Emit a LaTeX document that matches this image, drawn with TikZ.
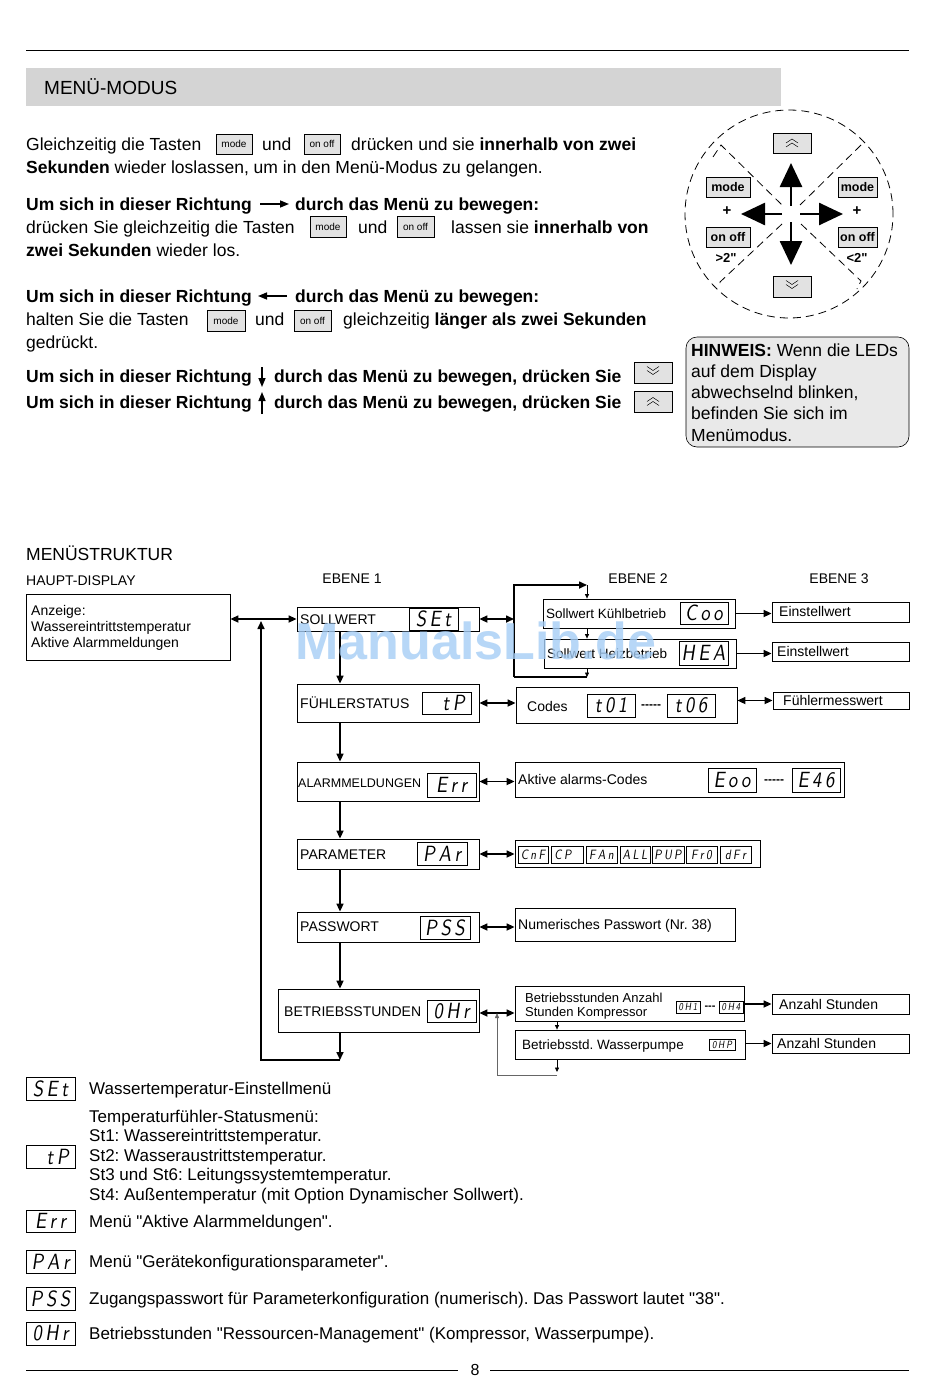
\documentclass[tikz,border=0pt]{standalone}
\usepackage{fontspec}
\setmainfont{Liberation Sans}
\newfontfamily\qfont{Liberation Sans}
\newfontfamily\segfont[FakeSlant=0.15,FakeStretch=0.85]{lmsans10-regular.otf}
\usetikzlibrary{arrows.meta}
\definecolor{hdr}{RGB}{212,212,212}
\definecolor{keyfill}{RGB}{226,226,226}
\definecolor{notefill}{RGB}{233,233,233}
\definecolor{wm}{RGB}{165,205,245}
\frenchspacing
\newcommand\fs[1]{\fontsize{#1}{#1}\selectfont}
\newcommand\sk{\kern3.5pt}
\newcommand\qq{{\qfont\char34}}
\newcommand\dd{{-}{-}{-}{-}{-}}
\newcommand\rbox[6][]{\node[boxst,minimum width={(#5-#3)*1pt},minimum height={(#6-#4)*1pt},#1] (#2) at ({(#3+#5)/2},{(#4+#6)/2}) {};}
\newcommand\disp[7][]{\node[dispst,minimum width={(#5-#3)*1pt},minimum height={(#6-#4)*1pt},#1] (#2) at ({(#3+#5)/2},{(#4+#6)/2}) {#7};}
\newcommand\kbox[7][]{\node[keyst,minimum width={(#5-#3)*1pt},minimum height={(#6-#4)*1pt},#1] (#2) at ({(#3+#5)/2},{(#4+#6)/2}) {#7};}
\newcommand\chevup[1]{%
  \draw[chev] ([xshift=-6pt,yshift=0pt]#1.center) -- ([yshift=4pt]#1.center) -- ([xshift=6pt,yshift=0pt]#1.center);
  \draw[chev] ([xshift=-6pt,yshift=-4pt]#1.center) -- ([yshift=0pt]#1.center) -- ([xshift=6pt,yshift=-4pt]#1.center);}
\newcommand\chevdn[1]{%
  \draw[chev] ([xshift=-6pt,yshift=6pt]#1.center) -- ([yshift=2pt]#1.center) -- ([xshift=6pt,yshift=6pt]#1.center);
  \draw[chev] ([xshift=-6pt,yshift=2pt]#1.center) -- ([yshift=-2pt]#1.center) -- ([xshift=6pt,yshift=2pt]#1.center);}
\begin{document}
\begin{tikzpicture}[x=1pt,y=-1pt,
  boxst/.style={draw,line width=0.8pt,inner sep=0},
  dispst/.style={draw,line width=0.8pt,inner sep=0,font=\segfont\fs{22}},
  smdisp/.style={dispst,font=\segfont\fs{13.5}},
  tinydisp/.style={dispst,line width=0.6pt,font=\segfont\fs{10.5}},
  keyst/.style={draw,fill=keyfill,line width=0.6pt,inner sep=0,font=\fs{10}},
  ckey/.style={keyst,font=\bfseries\fs{12.5}},
  txt/.style={anchor=base west,inner sep=0,font=\fs{17.5}},
  ltxt/.style={anchor=base west,inner sep=0,font=\fs{17}},
  dtxt/.style={anchor=base west,inner sep=0,font=\fs{14}},
  stxt/.style={anchor=base west,inner sep=0,font=\fs{13.5}},
  conn/.style={line width=1.6pt},
  arr/.style={conn,-{Triangle[length=8pt,width=7pt]}},
  darr/.style={conn,{Triangle[length=8pt,width=7pt]}-{Triangle[length=8pt,width=7pt]}},
  sarr/.style={line width=0.7pt,-{Triangle[length=4.5pt,width=4pt]}},
  tarr/.style={line width=1.5pt,-{Triangle[length=9pt,width=7pt]}},
  dline/.style={line width=0.8pt,dash pattern=on 8pt off 5pt},
  bigarr/.style={line width=2.6pt,-{Triangle[length=24pt,width=22pt]}},
  chev/.style={line width=0.5pt}]
\useasboundingbox (0,0) rectangle (950,1387);
\fill[white] (0,0) rectangle (950,1387);
% ---------- header ----------
\draw[line width=0.8pt] (26,50) -- (909,50);
\fill[hdr] (26,68) rectangle (781,106);
\node[anchor=west,inner sep=0,font=\fs{19}] (title) at (44,87) {MENÜ-MODUS};
% ---------- paragraph ----------
\node[txt] (p1a) at (26,150) {Gleichzeitig die Tasten};
\kbox{k1m}{216}{134}{252}{154}{mode}
\node[txt] (p1b) at (262,150) {und};
\kbox{k1o}{304}{134}{340}{154}{on off}
\node[txt] (p1c) at (351,150) {drücken und sie \textbf{innerhalb von zwei}};
\node[txt] (p2) at (26,173) {\textbf{Sekunden} wieder loslassen, um in den Menü-Modus zu gelangen.};
\node[txt] (p3a) at (26,210) {\textbf{Um sich in dieser Richtung}};
\coordinate (a3s) at (260,204); \coordinate (a3e) at (289,204);
\draw[tarr] (a3s) -- (a3e);
\node[txt] (p3b) at (295,210) {\textbf{durch das Menü zu bewegen:}};
\node[txt] (p4a) at (26,233) {drücken Sie gleichzeitig die Tasten};
\kbox{k2m}{310}{216}{346}{237}{mode}
\node[txt] (p4b) at (358,233) {und};
\kbox{k2o}{397}{216}{434}{237}{on off}
\node[txt] (p4c) at (451,233) {lassen sie \textbf{innerhalb von}};
\node[txt] (p5) at (26,256) {\textbf{zwei Sekunden} wieder los.};
\node[txt] (p6a) at (26,302) {\textbf{Um sich in dieser Richtung}};
\coordinate (a6s) at (287,296); \coordinate (a6e) at (258,296);
\draw[tarr] (a6s) -- (a6e);
\node[txt] (p6b) at (295,302) {\textbf{durch das Menü zu bewegen:}};
\node[txt] (p7a) at (26,325) {halten Sie die Tasten};
\kbox{k3m}{207}{310}{245}{331}{mode}
\node[txt] (p7b) at (255,325) {und};
\kbox{k3o}{294}{310}{331}{331}{on off}
\node[txt] (p7c) at (343,325) {gleichzeitig \textbf{länger als zwei Sekunden}};
\node[txt] (p8) at (26,348) {gedrückt.};
\node[txt] (p9a) at (26,382) {\textbf{Um sich in dieser Richtung}};
\coordinate (a9s) at (262,367); \coordinate (a9e) at (262,387);
\draw[tarr] (a9s) -- (a9e);
\node[txt] (p9b) at (274,382) {\textbf{durch das Menü zu bewegen, drücken Sie}};
\kbox{kdn}{634}{362}{672}{383}{}
\chevdn{kdn}
\node[txt] (p10a) at (26,408) {\textbf{Um sich in dieser Richtung}};
\coordinate (a10s) at (262,414); \coordinate (a10e) at (262,392);
\draw[tarr] (a10s) -- (a10e);
\node[txt] (p10b) at (274,408) {\textbf{durch das Menü zu bewegen, drücken Sie}};
\kbox{kup}{634}{391}{672}{412}{}
\chevup{kup}
% ---------- circle diagram ----------
\draw[dline] (789,214) circle[radius=104pt];
\draw[dline] (713,157) -- (721,145) -- (782,205);
\draw[dline] (861,145) -- (800,205);
\draw[dline] (782,224) -- (720,282) -- (720,288);
\draw[dline] (801,224) -- (861,281) -- (857,289);
\coordinate (cc) at (791,214);
\draw[bigarr] (791,206) -- (791,163);
\draw[bigarr] (782,214) -- (741,214);
\draw[bigarr] (800,214) -- (843,214);
\draw[bigarr] (791,222) -- (791,265);
\kbox[ckey]{cup}{773}{133}{811}{153}{}
\chevup{cup}
\kbox[ckey]{cdn}{773}{276}{811}{297}{}
\chevdn{cdn}
\kbox[ckey]{cml}{706}{177}{750}{197}{mode}
\kbox[ckey]{col}{706}{227}{750}{247}{on off}
\kbox[ckey]{cmr}{838}{177}{877}{197}{mode}
\kbox[ckey]{cor}{838}{227}{877}{247}{on off}
\node[font=\bfseries\fs{15},inner sep=0] (plusl) at (727,211) {+};
\node[font=\bfseries\fs{15},inner sep=0] (plusr) at (857,211) {+};
\node[font=\bfseries\fs{13},inner sep=0] (gt2) at (726,258) {>2\qq};
\node[font=\bfseries\fs{13},inner sep=0] (lt2) at (857,258) {<2\qq};
% ---------- note ----------
\node[draw,fill=notefill,rounded corners=11pt,line width=0.6pt,minimum width=223pt,minimum height=110pt,inner sep=0] (note) at (797.5,392) {};
\node[txt] (n1) at (691,356) {\textbf{HINWEIS:} Wenn die LEDs};
\node[txt] (n2) at (691,377) {auf dem Display};
\node[txt] (n3) at (691,398) {abwechselnd blinken,};
\node[txt] (n4) at (691,419) {befinden Sie sich im};
\node[txt] (n5) at (691,441) {Menümodus.};
% ---------- menu structure headings ----------
\node[txt] (ms) at (26,560) {MENÜSTRUKTUR};
\node[dtxt] (hdp) at (26,585) {HAUPT-DISPLAY};
\node[dtxt,anchor=base] (eb1) at (352,583) {EBENE 1};
\node[dtxt,anchor=base] (eb2) at (638,583) {EBENE 2};
\node[dtxt,anchor=base] (eb3) at (839,583) {EBENE 3};
% main display
\rbox{hd}{26}{594}{230}{660}
\node[dtxt] (hd1) at (31,615) {Anzeige:};
\node[dtxt] (hd2) at (31,631) {Wassereintrittstemperatur};
\node[dtxt] (hd3) at (31,647) {Aktive Alarmmeldungen};
% level 1
\rbox{s1}{297}{607}{479}{631}
\disp{s1d}{409}{608}{458}{630}{S\sk E\sk t}
\node[dtxt] (s1t) at (300,624) {SOLLWERT};
\rbox{s2}{297}{684}{479}{722}
\disp{s2d}{422}{692}{471}{714}{\phantom{E}\sk t\sk P}
\node[dtxt] (s2t) at (300,708) {FÜHLERSTATUS};
\rbox{s3}{297}{762}{479}{801}
\disp{s3d}{427}{773}{476}{797}{E\sk r\sk r}
\node[dtxt,font=\fs{12.5}] (s3t) at (298,787) {ALARMMELDUNGEN};
\rbox{s4}{297}{839}{479}{869}
\disp{s4d}{417}{842}{467}{865}{P\sk A\sk r}
\node[dtxt] (s4t) at (300,859) {PARAMETER};
\rbox{s5}{297}{912}{479}{942}
\disp{s5d}{420}{916}{470}{939}{P\sk S\sk S}
\node[dtxt] (s5t) at (300,931) {PASSWORT};
\rbox{s6}{278}{989}{479}{1032}
\disp{s6d}{427}{1000}{476}{1022}{0\sk H\sk r}
\node[dtxt] (s6t) at (284,1016) {BETRIEBSSTUNDEN};
% level 1 connectors
\coordinate (vx) at (340,0);
\coordinate (rb) at (261,1060);
\coordinate (rt) at (261,621);
\draw[darr] (hd.east |- s1.west) -- (s1.west);
\draw[arr] (vx |- s1.south) -- (vx |- s2.north);
\draw[arr] (vx |- s2.south) -- (vx |- s3.north);
\draw[arr] (vx |- s3.south) -- (vx |- s4.north);
\draw[arr] (vx |- s4.south) -- (vx |- s5.north);
\draw[arr] (vx |- s5.south) -- (vx |- s6.north);
\draw[arr] (vx |- s6.south) -- (vx |- rb);
\draw[arr] (vx |- rb) -- (rb) -- (rt);
% level 2
\rbox{k}{543}{599}{735}{628}
\disp{kd}{680}{602}{728}{624}{C\sk o\sk o}
\node[stxt] (kt) at (546,618) {Sollwert Kühlbetrieb};
\rbox{h}{544}{639}{736}{668}
\disp{hd2}{679}{641}{728}{665}{H\sk E\sk A}
\node[stxt] (ht) at (547,658) {Sollwert Heizbetrieb};
\rbox{c2}{516}{687}{737}{723}
\node[dtxt] (c2t) at (527,711) {Codes};
\disp{t1}{587}{694}{635}{717}{t\sk 0\sk 1}
\node[font=\bfseries\fs{12},inner sep=0] (c2d) at (651,707) {\dd};
\disp{t6}{667}{694}{715}{717}{t\sk 0\sk 6}
\rbox{a2}{515}{762}{844}{797}
\node[dtxt] (a2t) at (518,784) {Aktive alarms-Codes};
\disp{e0}{708}{768}{756}{792}{E\sk o\sk o}
\node[font=\bfseries\fs{12},inner sep=0] (a2d) at (774,782) {\dd};
\disp{e46}{792}{768}{840}{792}{E\sk 4\sk 6}
\rbox{p2}{515}{840}{760}{867}
\disp[smdisp]{pa}{518}{846}{548}{863}{C\,n\,F}
\disp[smdisp]{pb}{551}{846}{583}{863}{C\,P\,\phantom{n}}
\disp[smdisp]{pc}{586}{846}{617}{863}{F\,A\,n}
\disp[smdisp]{pd}{620}{846}{650}{863}{A\,L\,L}
\disp[smdisp]{pe}{652}{846}{684}{863}{P\,U\,P}
\disp[smdisp]{pf}{686}{846}{717}{863}{F\,r\,0}
\disp[smdisp]{pg}{720}{846}{751}{863}{d\,F\,r}
\rbox{pw2}{515}{908}{735}{941}
\node[dtxt] (pwt) at (518,929) {Numerisches Passwort (Nr. 38)};
\rbox{b2a}{515}{986}{744}{1021}
\node[stxt,font=\fs{13}] (b2t1) at (525,1002) {Betriebsstunden Anzahl};
\node[stxt,font=\fs{13}] (b2t2) at (525,1016) {Stunden Kompressor};
\disp[tinydisp]{oh1}{676}{1001}{700}{1013}{0\,H\,1}
\node[font=\bfseries\fs{11},inner sep=0] (b2d) at (710,1008) {{-}{-}{-}};
\disp[tinydisp]{oh4}{719}{1001}{743}{1013}{0\,H\,4}
\rbox{b2b}{515}{1030}{745}{1059}
\node[stxt,font=\fs{13.5}] (b2bt) at (522,1049) {Betriebsstd. Wasserpumpe};
\disp[tinydisp]{ohp}{709}{1039}{735}{1050}{0\,H\,P}
% level 3
\rbox{e1}{772}{602}{909}{622}
\node[dtxt] (e1t) at (779,616) {Einstellwert};
\rbox{e2}{772}{642}{909}{661}
\node[dtxt] (e2t) at (777,656) {Einstellwert};
\rbox{fm}{773}{692}{909}{709}
\node[dtxt] (fmt) at (783,705) {Fühlermesswert};
\rbox{as1}{772}{994}{909}{1014}
\node[dtxt] (as1t) at (779,1009) {Anzahl Stunden};
\rbox{as2}{772}{1034}{909}{1053}
\node[dtxt] (as2t) at (777,1048) {Anzahl Stunden};
% level 2 connectors
\coordinate (btop) at (514,585);
\coordinate (bbot) at (514,677);
\coordinate (ktop) at (587,585);
\coordinate (kbot) at (587,677);
\draw[darr] (s1.east) -- (btop |- s1.east);
\draw[arr] (bbot) -- (btop) -- (ktop);
\draw[sarr] (ktop) -- (ktop |- k.north);
\draw[sarr] (ktop |- k.south) -- (ktop |- h.north);
\draw[sarr] (ktop |- h.south) -- (kbot);
\draw[conn] (kbot) -- (bbot);
\draw[arr] (k.east) -- (e1.west |- k.east);
\draw[arr] (h.east) -- (e2.west |- h.east);
\draw[darr] (s2.east) -- (c2.west |- s2.east);
\draw[darr] (c2.east |- fm.west) -- (fm.west);
\draw[darr] (s3.east) -- (a2.west |- s3.east);
\draw[darr] (s4.east) -- (p2.west |- s4.east);
\draw[darr] (s5.east) -- (pw2.west |- s5.east);
\coordinate (bj) at (497,1013);
\coordinate (bl) at (497,1075);
\coordinate (br) at (557,1075);
\draw[darr] (s6.east |- bj) -- (b2a.west |- bj);
\draw[line width=0.5pt,draw=black!60,-{Triangle[length=5pt,width=4pt]}] (br) -- (bl) -- (bj);
\draw[sarr] (br |- b2a.south) -- (br |- b2b.north);
\draw[sarr] (br |- b2b.south) -- ([yshift=3pt]br);
\draw[arr] (b2a.east |- as1.west) -- (as1.west);
\draw[arr] (b2b.east |- as2.west) -- (as2.west);
% ---------- legend ----------
\disp{l1}{26}{1077}{75}{1100}{S\sk E\sk t}
\node[ltxt] (l1t) at (89,1094) {Wassertemperatur-Einstellmenü};
\disp{l2}{26}{1145}{75}{1168}{\phantom{E}\sk t\sk P}
\node[ltxt] (l2a) at (89,1122) {Temperaturfühler-Statusmenü:};
\node[ltxt] (l2b) at (89,1141) {St1: Wassereintrittstemperatur.};
\node[ltxt] (l2c) at (89,1161) {St2: Wasseraustrittstemperatur.};
\node[ltxt] (l2d) at (89,1180) {St3 und St6: Leitungssystemtemperatur.};
\node[ltxt] (l2e) at (89,1200) {St4: Außentemperatur (mit Option Dynamischer Sollwert).};
\disp{l3}{26}{1210}{75}{1232}{E\sk r\sk r}
\node[ltxt] (l3t) at (89,1227) {Menü \qq Aktive Alarmmeldungen\qq .};
\disp{l4}{26}{1250}{75}{1273}{P\sk A\sk r}
\node[ltxt] (l4t) at (89,1267) {Menü \qq Gerätekonfigurationsparameter\qq .};
\disp{l5}{26}{1287}{75}{1310}{P\sk S\sk S}
\node[ltxt] (l5t) at (89,1304) {Zugangspasswort für Parameterkonfiguration (numerisch). Das Passwort lautet \qq 38\qq .};
\disp{l6}{26}{1322}{75}{1345}{0\sk H\sk r}
\node[ltxt] (l6t) at (89,1339) {Betriebsstunden \qq Ressourcen-Management\qq{} (Kompressor, Wasserpumpe).};
% ---------- footer ----------
\node[font=\fs{16},inner sep=0] (pg) at (475,1370) {8};
\draw[line width=0.6pt] (26,1370) -- (458,1370);
\draw[line width=0.6pt] (490,1370) -- (909,1370);
% ---------- watermark ----------
\node[font=\bfseries\fs{52},text=wm,opacity=0.8,inner sep=0] (wmk) at (476,641) {ManualsLib.de};
\end{tikzpicture}
\end{document}
